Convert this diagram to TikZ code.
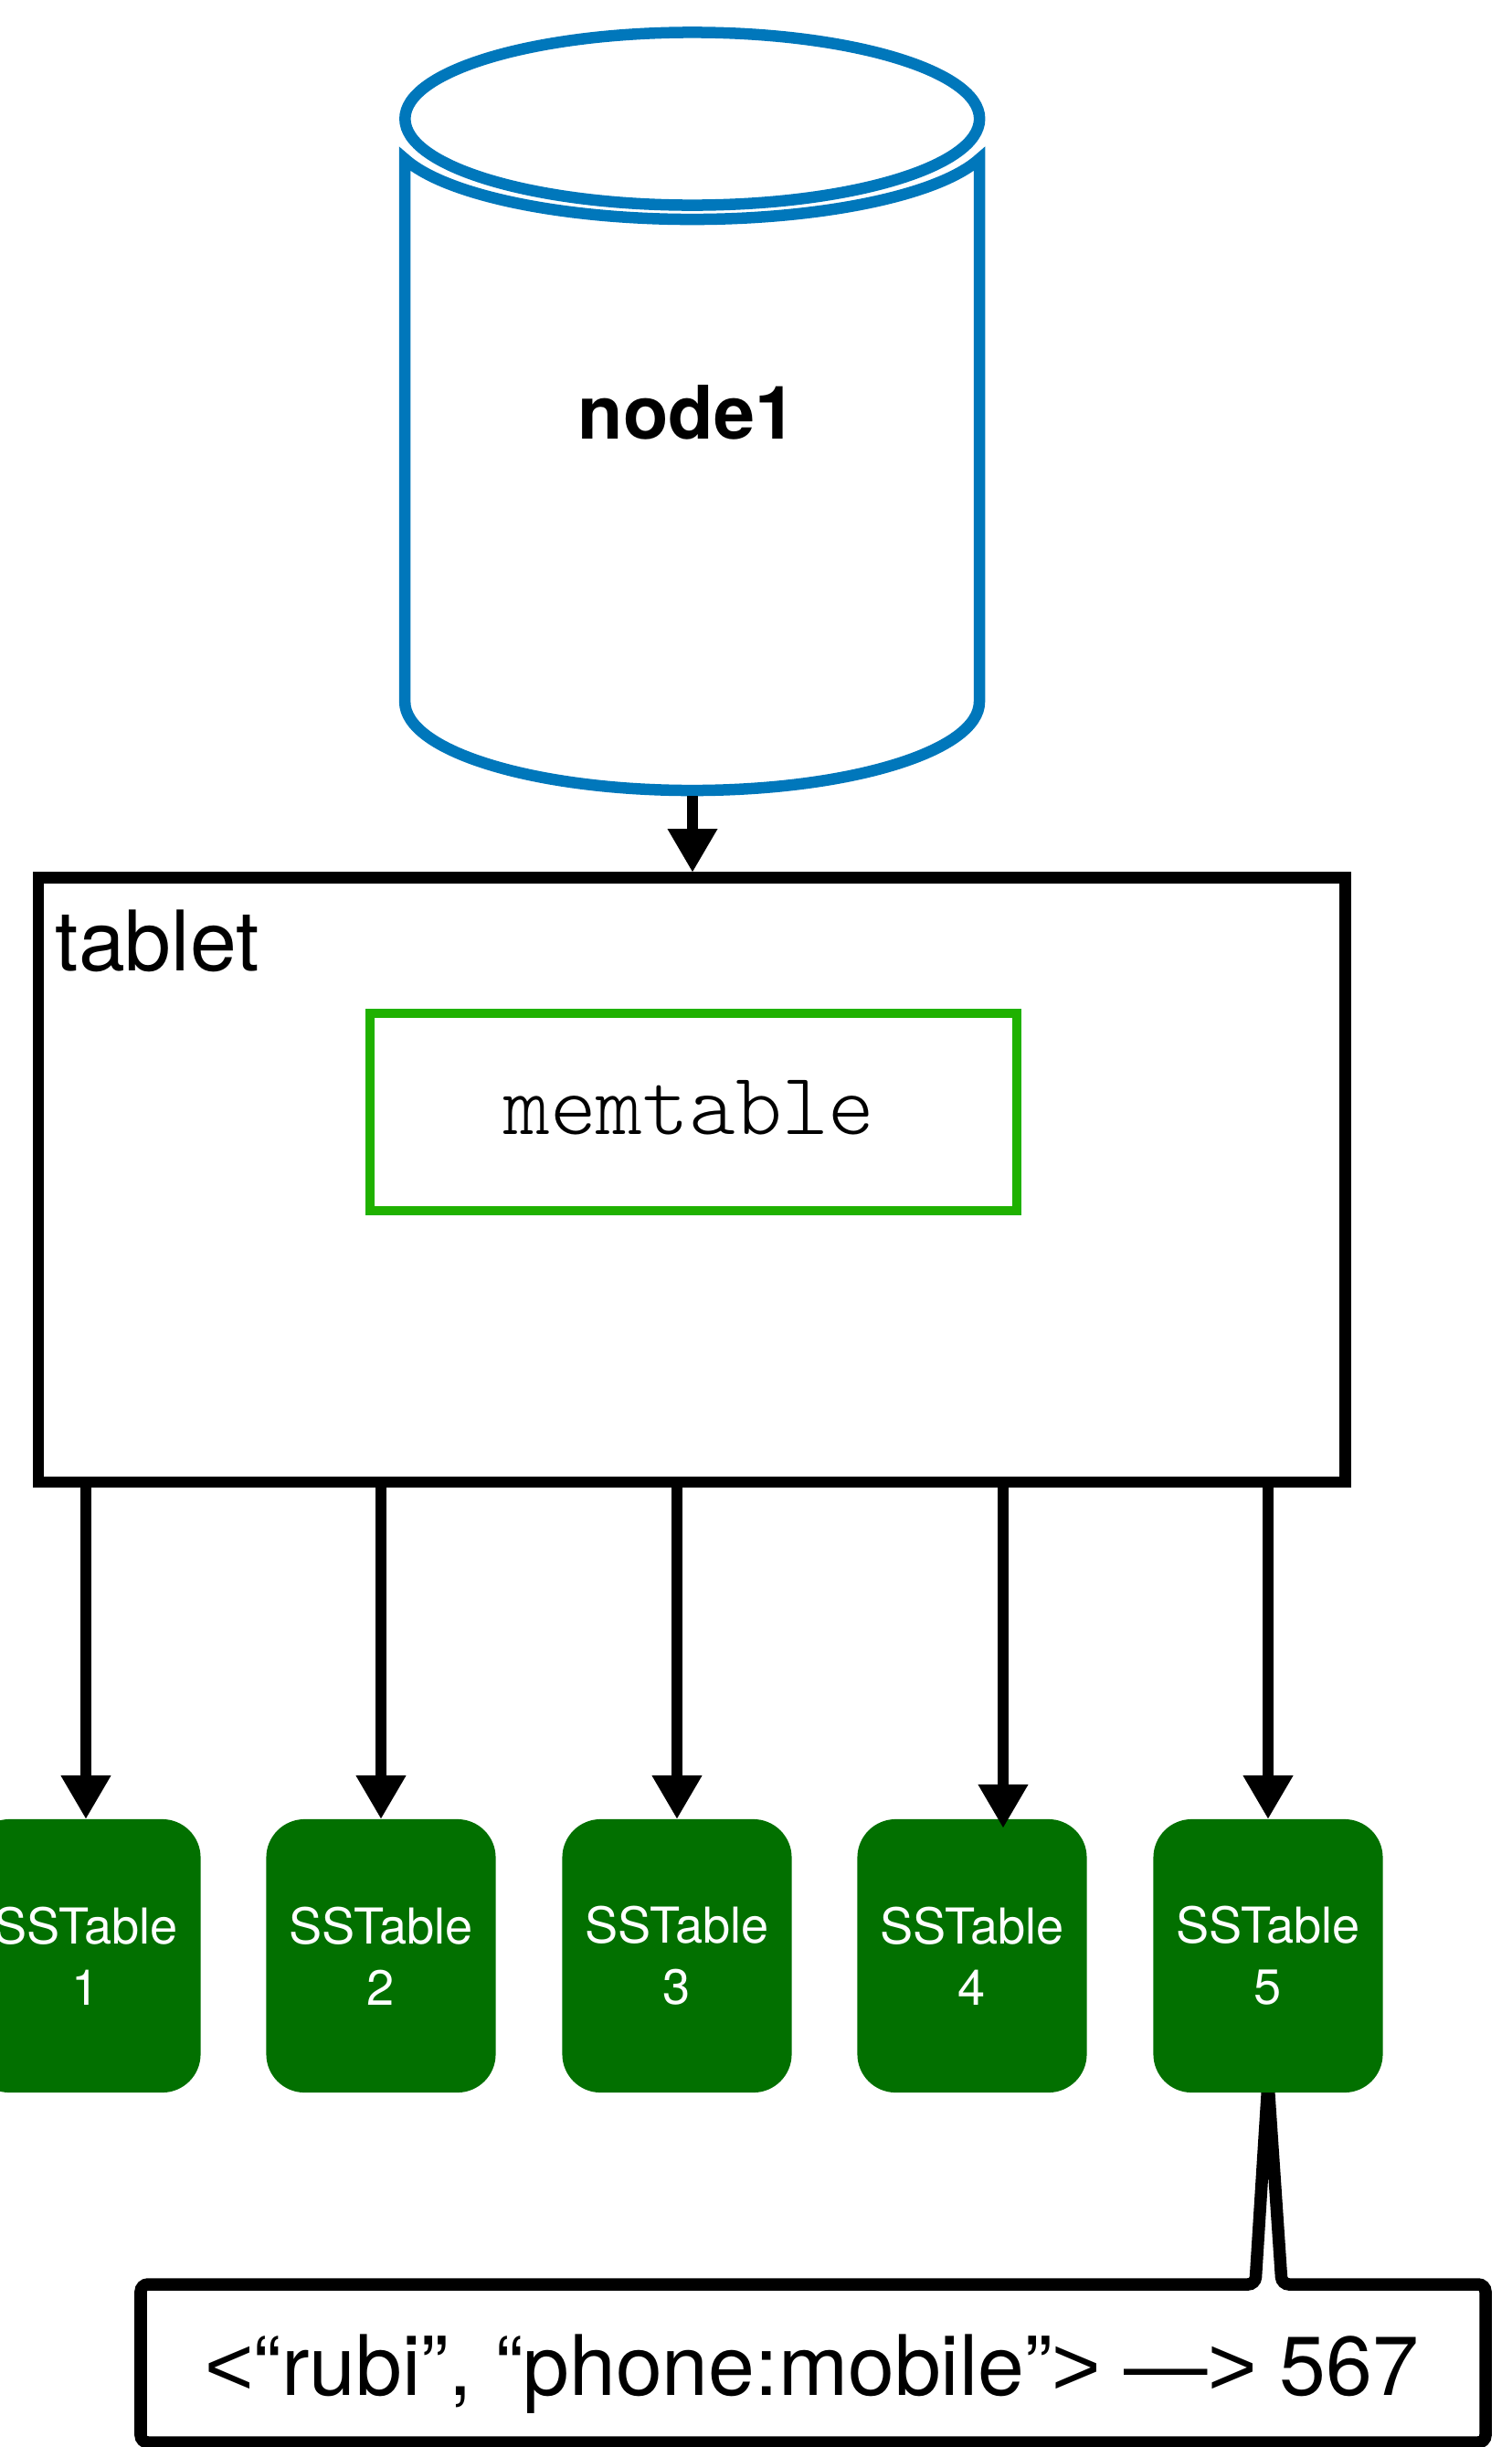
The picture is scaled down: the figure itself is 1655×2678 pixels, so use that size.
\documentclass[tikz,border=0pt]{standalone}
\usepackage{fontspec}
\setmainfont{TeX Gyre Heros}
\newfontfamily\memfont{Latin Modern Mono Light}
\newfontfamily\symfont{Liberation Sans}
\usetikzlibrary{arrows.meta,calc}
\definecolor{dbblue}{HTML}{0077BB}
\definecolor{memgreen}{HTML}{1FB100}
\definecolor{ssgreen}{HTML}{027000}
\tikzset{
  dbline/.style={draw=dbblue, fill=white, line width=0.125cm},
  conn/.style={line width=0.125cm, -{Triangle[length=0.47cm,width=0.55cm,line width=0pt]}},
  sstable/.style={fill=ssgreen, rounded corners=0.42cm, minimum width=2.51cm, minimum height=2.99cm,
    inner sep=0pt, text=white, align=center, font=\fontsize{15.4pt}{19.1pt}\selectfont},
}
\begin{document}
\begin{tikzpicture}[x=0.01cm,y=0.01cm]
\useasboundingbox (0,0) rectangle (1655,-2678);

% database cylinder
\path[dbline] (1072,-174)
  arc[start angle=-17.77,end angle=-162.23,x radius=3.3cm,y radius=0.95cm]
  -- ++(0,-594)
  arc[start angle=180,end angle=360,x radius=3.1425cm,y radius=0.97cm]
  -- cycle;
\path[dbline] (757.75,-130) ellipse[x radius=3.1425cm,y radius=0.945cm];
\node[anchor=base, inner sep=0pt, font=\fontsize{23pt}{27pt}\selectfont\bfseries] (node1) at (752,-480) {node1};
\coordinate (dbbot) at (758,-871);

% tablet
\node[draw, line width=0.125cm, minimum width=14.295cm, minimum height=6.615cm, inner sep=0pt] (tablet) at (757.25,-1291.25) {};
\node[anchor=base west, inner sep=0pt, font=\fontsize{26pt}{30pt}\selectfont] (tabletlabel) at (60,-1062) {tablet};
\node[draw=memgreen, line width=0.1cm, minimum width=7.075cm, minimum height=2.16cm, inner sep=0pt] (mem) at (758.75,-1217) {};
\node[anchor=base, inner sep=0pt, font=\fontsize{27.5pt}{30pt}\selectfont\memfont] (memtext) at (754.5,-1241.5) {memtable};

\draw[conn] (dbbot) -- (tablet.north -| dbbot);

% key-value callout (drawn before the SSTables)
\path[draw, fill=white, line width=0.135cm, rounded corners=0.08cm]
  (1388,-2278) -- (1403,-2500) -- (1626,-2500) -- (1626,-2673) -- (154,-2673) -- (154,-2500) -- (1374,-2500) -- cycle;
\node[anchor=base, inner sep=0pt, font=\fontsize{26pt}{30pt}\selectfont] (kv) at (889,-2621) {{\symfont<}“rubi”, “phone:mobile”{\symfont>} —{\symfont>} 567};

% SSTables
\node[sstable] (s1) at (94,-2140.5) {SSTable\\1};
\node[sstable] (s2) at (417,-2140.5) {SSTable\\2};
\node[sstable] (s3) at (741,-2140.5) {SSTable\\3};
\node[sstable] (s4) at (1064,-2140.5) {SSTable\\4};
\node[sstable] (s5) at (1388,-2140.5) {SSTable\\5};
\coordinate (a4) at (1098,-2000);

\draw[conn] (tablet.south -| s1.north) -- (s1.north);
\draw[conn] (tablet.south -| s2.north) -- (s2.north);
\draw[conn] (tablet.south -| s3.north) -- (s3.north);
\draw[conn] (tablet.south -| a4) -- (a4);
\draw[conn] (tablet.south -| s5.north) -- (s5.north);
\end{tikzpicture}
\end{document}
